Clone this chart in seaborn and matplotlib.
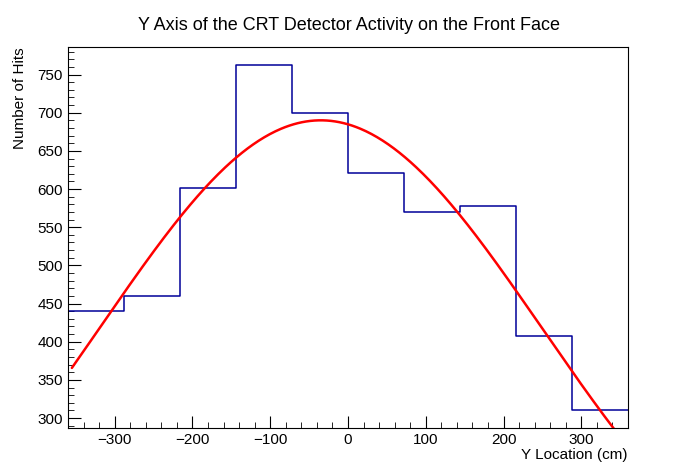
import numpy as np
import pandas as pd
import matplotlib.pyplot as plt
import seaborn as sns
from matplotlib.ticker import MultipleLocator

# bin edges and contents
bin_edges = [-360, -288, -216, -144, -72, 0, 72, 144, 216, 288, 360]
hits = [440, 460, 601, 762, 699, 621, 570, 578, 408, 310]

# gaussian fit parameters
fit_amp = 690
fit_mean = -35
fit_sigma = 284

sns.set_style("ticks", {"text.color": "black", "axes.labelcolor": "black",
                        "xtick.color": "black", "ytick.color": "black",
                        "axes.edgecolor": "black"})
plt.rcParams['font.family'] = ['Liberation Sans', 'DejaVu Sans']

fig = plt.figure(figsize=(6.98, 4.76), dpi=100)
ax = fig.add_axes([0.0974, 0.1008, 0.8023, 0.8004])

centers = [(bin_edges[i] + bin_edges[i + 1]) / 2 for i in range(len(hits))]
df = pd.DataFrame({"y": centers, "hits": hits})
sns.histplot(data=df, x="y", weights="hits", bins=bin_edges, element="step",
             fill=False, color="#000099", linewidth=1.1, ax=ax)

xf = np.linspace(-355, 360, 400)
yf = fit_amp * np.exp(-(xf - fit_mean) ** 2 / (2 * fit_sigma ** 2))
sns.lineplot(x=xf, y=yf, color="red", linewidth=1.8, ax=ax)

ax.set_xlim(-360, 360)
ax.set_ylim(287, 786)
ax.xaxis.set_major_locator(MultipleLocator(100))
ax.xaxis.set_minor_locator(MultipleLocator(20))
ax.yaxis.set_major_locator(MultipleLocator(50))
ax.yaxis.set_minor_locator(MultipleLocator(10))
ax.tick_params(which='both', direction='in', top=False, right=False, labelsize=11)
ax.tick_params(which='major', length=9)
ax.tick_params(which='minor', length=4.5)
for s in ax.spines.values():
    s.set_linewidth(0.8)

ax.set_xlabel("Y Location (cm)", fontsize=11, loc="right", labelpad=1)
ax.set_ylabel("Number of Hits", fontsize=11, loc="top", labelpad=8)
fig.suptitle("Y Axis of the CRT Detector Activity on the Front Face", fontsize=13, y=0.965)

fig.savefig("out.png", dpi=100)
